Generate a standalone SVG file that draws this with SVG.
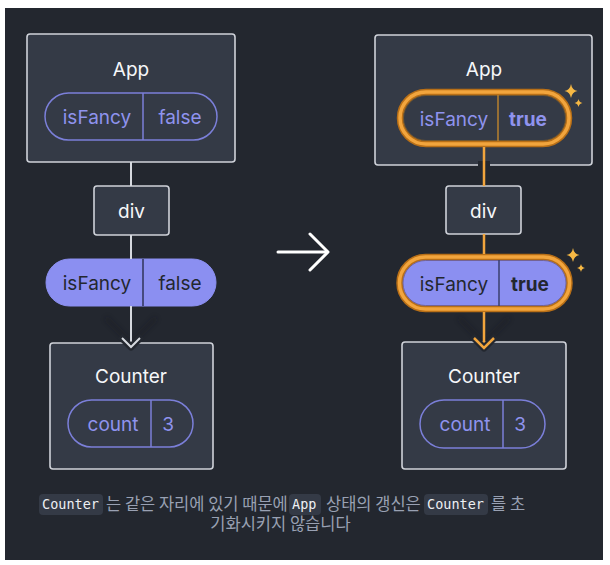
<svg xmlns="http://www.w3.org/2000/svg" width="610" height="565" viewBox="0 0 610 565">
  <defs>
    <style>
      .box{fill:#343a46;stroke:#cfd2d9;stroke-width:1.6}
      .title{font-family:Inter,"Noto Sans",sans-serif;font-size:19px;fill:#f6f7f9;text-anchor:middle}
      .pillo{fill:none;stroke:#7b7fd9;stroke-width:1.5}
      .pillf{fill:#8b8ff1;stroke:#8b8ff1;stroke-width:1}
      .pt{font-family:Inter,"Noto Sans",sans-serif;font-size:19px;fill:#8f93ee;text-anchor:middle}
      .ptd{font-family:Inter,"Noto Sans",sans-serif;font-size:19px;fill:#23272f;text-anchor:middle}
      .bold{font-weight:700}
      .conn{stroke:#d6d9df;stroke-width:2;fill:none}
      .conno{stroke:#f2a53d;stroke-width:2.5;fill:none}
      .ko{font-family:"Noto Sans CJK KR",sans-serif;font-size:16.5px;fill:#99a1b3}
      .code{font-family:"DejaVu Sans Mono",monospace;font-size:13.5px;fill:#eef0f3}
      .codebg{fill:#343a46}
      .spark{fill:#f6b844}
    </style>
    <filter id="blur" x="-50%" y="-50%" width="200%" height="200%">
      <feGaussianBlur stdDeviation="2.5"/>
    </filter>
  </defs>

  <rect x="0" y="0" width="610" height="565" fill="#ffffff"/>
  <rect x="5" y="8" width="598" height="552" fill="#23272f"/>

  <!-- Left tree -->
  <g id="left-app">
    <rect class="box" x="27" y="34" width="208" height="128" rx="3"/>
    <text class="title" x="131" y="76">App</text>
    <rect class="pillo" x="45" y="93" width="172" height="47" rx="23.5"/>
    <line x1="143" y1="93" x2="143" y2="140" stroke="#7b7fd9" stroke-width="1.5"/>
    <text class="pt" x="97" y="123.5">isFancy</text>
    <text class="pt" x="180" y="123.5">false</text>
  </g>
  <g id="left-div">
    <rect class="box" x="94" y="186" width="75" height="49" rx="3"/>
    <text class="title" x="131.5" y="217.5">div</text>
  </g>
  <g id="left-state">
    <rect class="pillf" x="46" y="259" width="170" height="47" rx="23.5"/>
    <line x1="143" y1="259" x2="143" y2="306" stroke="#2f3358" stroke-width="1.5"/>
    <text class="ptd" x="97" y="289.5">isFancy</text>
    <text class="ptd" x="180" y="289.5">false</text>
  </g>
  <g id="left-counter">
    <rect class="box" x="50" y="343" width="163" height="126" rx="3"/>
    <text class="title" x="131" y="382.5">Counter</text>
    <rect class="pillo" x="68" y="400" width="125" height="47" rx="23.5"/>
    <line x1="151" y1="400" x2="151" y2="447" stroke="#7b7fd9" stroke-width="1.5"/>
    <text class="pt" x="113" y="430.5">count</text>
    <text class="pt" x="168" y="430.5">3</text>
  </g>

  <!-- Right tree -->
  <g id="right-app">
    <rect class="box" x="375" y="35" width="217" height="130" rx="3"/>
    <text class="title" x="484" y="76">App</text>
    <rect x="400" y="92" width="169" height="52" rx="26" fill="#343a46" stroke="#b86f17" stroke-width="6.5"/>
    <rect x="400" y="92" width="169" height="52" rx="26" fill="none" stroke="#f2a53d" stroke-width="3.5"/>
    <rect x="403.5" y="95.5" width="162" height="45" rx="22.5" fill="none" stroke="#7a5a2c" stroke-width="0.8"/>
    <line x1="498" y1="95" x2="498" y2="141" stroke="#b9822f" stroke-width="1.5"/>
    <text class="pt" x="454" y="126">isFancy</text>
    <text class="pt bold" x="528" y="126">true</text>
    <path class="spark" d="M571 84 Q572 90 577.5 91 Q572 92 571 98 Q570 92 564.5 91 Q570 90 571 84 Z"/>
    <path class="spark" d="M578.5 99 Q579.2 102.3 582.5 103 Q579.2 103.7 578.5 107 Q577.8 103.7 574.5 103 Q577.8 102.3 578.5 99 Z"/>
  </g>
  <g id="right-div">
    <rect class="box" x="446" y="186" width="75" height="48" rx="3"/>
    <text class="title" x="483.5" y="217.5">div</text>
  </g>
  <g id="right-state">
    <rect x="399.5" y="257" width="170" height="52" rx="26" fill="#8b8ff1" stroke="#b86f17" stroke-width="6.5"/>
    <rect x="399.5" y="257" width="170" height="52" rx="26" fill="none" stroke="#f2a53d" stroke-width="3.5"/>
    <rect x="403" y="260.5" width="163" height="45" rx="22.5" fill="none" stroke="#6b5a8a" stroke-width="0.8"/>
    <line x1="499" y1="260" x2="499" y2="306" stroke="#3a3f6e" stroke-width="1.5"/>
    <text class="ptd" x="454" y="290.5">isFancy</text>
    <text class="ptd bold" x="530" y="290.5">true</text>
    <path class="spark" d="M573 248 Q574 254 579.5 255 Q574 256 573 262 Q572 256 566.5 255 Q572 254 573 248 Z"/>
    <path class="spark" d="M581 264 Q581.7 267.3 585 268 Q581.7 268.7 581 272 Q580.3 268.7 577 268 Q580.3 267.3 581 264 Z"/>
  </g>
  <g id="right-counter">
    <rect class="box" x="402" y="342" width="164" height="127" rx="3"/>
    <text class="title" x="484" y="382.5">Counter</text>
    <rect class="pillo" x="420" y="400" width="125" height="48" rx="24"/>
    <line x1="503" y1="400" x2="503" y2="448" stroke="#7b7fd9" stroke-width="1.5"/>
    <text class="pt" x="465" y="430.5">count</text>
    <text class="pt" x="520" y="430.5">3</text>
  </g>

  <!-- Connectors -->
  <g id="connectors">
    <line class="conn" x1="131" y1="162" x2="131" y2="186"/>
    <line class="conn" x1="131" y1="235" x2="131" y2="259"/>
    <path d="M106 318 L131 343 L156 318" fill="none" stroke="#15181d" stroke-width="4" opacity="0.35" filter="url(#blur)"/>
    <line class="conn" x1="131" y1="306" x2="131" y2="345"/>
    <path d="M120 336 L131 347 L142 336" fill="none" stroke="#23272f" stroke-width="7" stroke-linejoin="round"/>
    <path class="conn" d="M122 338 L131 347 L140 338" stroke-width="2.2"/>

    <line x1="484" y1="161" x2="484" y2="168" stroke="#23272f" stroke-width="12"/>
    <line class="conno" x1="484" y1="147" x2="484" y2="186"/>
    <line class="conno" x1="484" y1="234" x2="484" y2="254"/>
    <path d="M459 318 L484 343 L509 318" fill="none" stroke="#15181d" stroke-width="4" opacity="0.35" filter="url(#blur)"/>
    <line class="conno" x1="484" y1="312" x2="484" y2="345"/>
    <path d="M472 336 L484 348 L496 336" fill="none" stroke="#23272f" stroke-width="7" stroke-linejoin="round"/>
    <path class="conno" d="M474 338 L484 348 L494 338"/>

    <line x1="278" y1="252" x2="327" y2="252" stroke="#ffffff" stroke-width="3" stroke-linecap="round"/>
    <path d="M310 234 L328 252 L310 270" fill="none" stroke="#ffffff" stroke-width="3" stroke-linecap="round" stroke-linejoin="round"/>
  </g>

  <!-- Caption -->
  <g id="caption">
    <rect class="codebg" x="39" y="494" width="64" height="21" rx="4"/>
    <text class="code" x="42" y="509">Counter</text>
    <text class="ko" x="106" y="510">는 같은 자리에 있기 때문에</text>
    <rect class="codebg" x="289" y="494" width="32" height="21" rx="4"/>
    <text class="code" x="292" y="509">App</text>
    <text class="ko" x="326" y="510">상태의 갱신은</text>
    <rect class="codebg" x="424" y="494" width="64" height="21" rx="4"/>
    <text class="code" x="427" y="509">Counter</text>
    <text class="ko" x="491" y="510">를 초</text>
    <text class="ko" x="280.5" y="530" text-anchor="middle">기화시키지 않습니다</text>
  </g>
</svg>
